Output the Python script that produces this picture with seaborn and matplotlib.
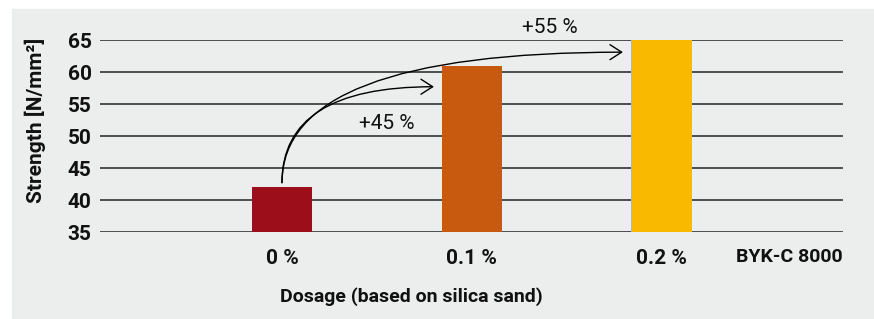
#Import packages
import matplotlib
matplotlib.use("Agg")
import pandas as pd
import matplotlib.pyplot as plt
import seaborn as sns
from matplotlib.patches import Rectangle

#Chart data
dosage = ["0 %", "0.1 %", "0.2 %"]
strength = [42, 61, 65]
bar_colors = ["#9C0E19", "#C85A0F", "#F9B900"]
gain_labels = ["+45 %", "+55 %"]
y_ticks = [35, 40, 45, 50, 55, 60, 65]

sns.set_theme(style="white")
plt.rcParams['font.family'] = ['Roboto', 'DejaVu Sans'] #Set after set_theme

fig = plt.figure(figsize=(8.74, 3.19), dpi=100)
fig.patches.append(Rectangle((12/874, 0), 1, 1 - 9/319, transform=fig.transFigure,
                             color="#ECEDED", zorder=-1)) #Grey panel
ax = fig.add_axes([0.1144, 0.2727, 0.850, 0.6019])
ax.set_facecolor("none")

df = pd.DataFrame({"dosage": dosage, "strength": strength})
sns.barplot(data=df, x="dosage", y="strength", hue="dosage", palette=bar_colors,
            saturation=1, width=0.32, legend=False, linewidth=0, ax=ax, zorder=3)

#Axes styling
ax.set_ylim(35, 65)
ax.set_xlim(-0.958, 2.953)
ax.set_yticks(y_ticks)
ax.yaxis.grid(True, color="#333333", lw=1.2)
ax.set_axisbelow(True)
sns.despine(ax=ax, left=True, bottom=True)
ax.tick_params(axis="both", length=0, labelsize=15)
ax.tick_params(axis="y", pad=6)
ax.tick_params(axis="x", pad=12)
for lab in ax.get_xticklabels() + ax.get_yticklabels():
    lab.set_fontweight("bold")
    lab.set_color("#111111")
ax.set_xlabel("")
ax.set_ylabel("Strength [N/mm²]", fontsize=15, fontweight="bold", color="#111111")
ax.yaxis.set_label_coords(-0.072, 0.58)
ax.text(1.0, -0.130, "BYK-C 8000", transform=ax.transAxes, ha="right", va="center",
        fontsize=14, fontweight="bold", color="#111111")
fig.text(411/874, 1 - 297/319, "Dosage (based on silica sand)", ha="center", va="center",
         fontsize=14, fontweight="bold", color="#111111")

#Growth arrows
arrow_style = "->,head_length=0.7,head_width=0.45"
for end, lab, pos in [((0.8, 57.7), gain_labels[0], (0.553, 51.9)),
                      ((1.795, 63.1), gain_labels[1], (1.41, 67.0))]:
    ax.annotate("", xy=end, xytext=(0.0, 42.7), annotation_clip=False,
                arrowprops=dict(arrowstyle=arrow_style, color="black", lw=1,
                                shrinkA=0, shrinkB=0,
                                connectionstyle="angle3,angleA=90,angleB=0"))
    ax.text(pos[0], pos[1], lab, ha="center", va="center", fontsize=15, color="#111111",
            clip_on=False)

fig.savefig("out.png", dpi=100) #Export figure
